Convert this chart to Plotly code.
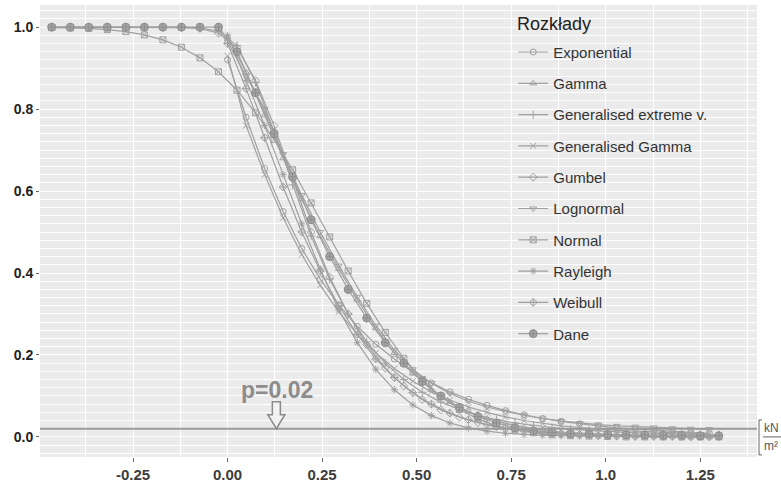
import plotly.graph_objects as go

# ---------------- data ----------------
# grid used for the empirical data and the full-support distributions
X_GRID = [-0.465, -0.416, -0.367, -0.318, -0.269, -0.220, -0.171, -0.122, -0.073, -0.024,
          0.025, 0.074, 0.123, 0.172, 0.221, 0.270, 0.319, 0.368, 0.417, 0.466,
          0.515, 0.564, 0.613, 0.662, 0.711, 0.760, 0.809, 0.858, 0.907, 0.956,
          1.005, 1.054, 1.103, 1.152, 1.201, 1.250, 1.299]
# grid used for the distributions with positive support
P_GRID = [0.000, 0.049, 0.098, 0.147, 0.196, 0.245, 0.294, 0.343, 0.392, 0.441,
          0.490, 0.539, 0.588, 0.637, 0.686, 0.735, 0.784, 0.833, 0.882, 0.931,
          0.980, 1.029, 1.078, 1.127, 1.176, 1.225, 1.274]

exponential = [0.92, 0.78, 0.655, 0.55, 0.46, 0.385, 0.322, 0.27, 0.226, 0.19,
               0.158, 0.132, 0.11, 0.092, 0.077, 0.064, 0.054, 0.045, 0.038, 0.032,
               0.027, 0.022, 0.019, 0.016, 0.013, 0.011, 0.009]
gamma = [0.975, 0.89, 0.785, 0.68, 0.58, 0.49, 0.41, 0.335, 0.265, 0.205,
         0.155, 0.115, 0.085, 0.062, 0.045, 0.033, 0.024, 0.017, 0.012, 0.009,
         0.006, 0.0045, 0.003, 0.0022, 0.0016, 0.0011, 0.0008]
gev = [1.0, 1.0, 1.0, 1.0, 1.0, 1.0, 1.0, 1.0, 0.998, 0.99,
       0.955, 0.865, 0.745, 0.615, 0.49, 0.385, 0.30, 0.232, 0.18, 0.14,
       0.109, 0.085, 0.067, 0.053, 0.042, 0.034, 0.028, 0.023, 0.019, 0.016,
       0.013, 0.011, 0.0095, 0.008, 0.007, 0.006, 0.005]
gen_gamma = [0.93, 0.76, 0.64, 0.535, 0.445, 0.37, 0.305, 0.25, 0.205, 0.167,
             0.136, 0.11, 0.09, 0.073, 0.06, 0.049, 0.04, 0.033, 0.027, 0.023,
             0.019, 0.016, 0.014, 0.012, 0.010, 0.009, 0.008]
gumbel = [1.0, 1.0, 1.0, 1.0, 1.0, 1.0, 1.0, 0.999, 0.997, 0.985,
          0.95, 0.87, 0.76, 0.63, 0.50, 0.39, 0.30, 0.225, 0.168, 0.124,
          0.091, 0.066, 0.048, 0.035, 0.025, 0.018, 0.013, 0.0095, 0.0068, 0.0049,
          0.0035, 0.0025, 0.0018, 0.0013, 0.0009, 0.0007, 0.0005]
lognormal = [0.965, 0.88, 0.80, 0.69, 0.59, 0.50, 0.418, 0.342, 0.272, 0.212,
             0.165, 0.131, 0.106, 0.087, 0.073, 0.062, 0.053, 0.045, 0.039, 0.034,
             0.030, 0.027, 0.025, 0.023, 0.021, 0.020, 0.019]
normal = [0.999, 0.998, 0.997, 0.994, 0.989, 0.981, 0.969, 0.951, 0.925, 0.891,
          0.846, 0.791, 0.726, 0.652, 0.571, 0.488, 0.405, 0.326, 0.255, 0.192,
          0.140, 0.098, 0.067, 0.044, 0.027, 0.017, 0.010, 0.005, 0.003, 0.002,
          0.001, 0.0, 0.0, 0.0, 0.0, 0.0, 0.0]
rayleigh = [0.98, 0.87, 0.76, 0.64, 0.52, 0.41, 0.31, 0.23, 0.165, 0.115,
            0.078, 0.052, 0.034, 0.022, 0.014, 0.009, 0.006, 0.004, 0.003, 0.002,
            0.002, 0.001, 0.001, 0.001, 0.001, 0.0, 0.0]
weibull = [0.96, 0.85, 0.73, 0.61, 0.50, 0.405, 0.32, 0.25, 0.19, 0.145,
           0.108, 0.08, 0.058, 0.042, 0.03, 0.021, 0.015, 0.01, 0.007, 0.005,
           0.003, 0.002, 0.001, 0.001, 0.001, 0.0, 0.0]
dane = [1.0, 1.0, 1.0, 1.0, 1.0, 1.0, 1.0, 1.0, 1.0, 1.0,
        0.94, 0.84, 0.74, 0.635, 0.53, 0.44, 0.36, 0.29, 0.23, 0.18,
        0.135, 0.10, 0.072, 0.05, 0.034, 0.022, 0.015, 0.011, 0.008, 0.007,
        0.006, 0.005, 0.005, 0.004, 0.004, 0.003, 0.003]

SERIES_NAMES = ["Exponential", "Gamma", "Generalised extreme v.", "Generalised Gamma",
                "Gumbel", "Lognormal", "Normal", "Rayleigh", "Weibull", "Dane"]
SERIES_VALUES = [exponential, gamma, gev, gen_gamma, gumbel, lognormal,
                 normal, rayleigh, weibull, dane]

X_TICKS = [-0.25, 0.0, 0.25, 0.5, 0.75, 1.0, 1.25]
X_TICK_TEXT = ["-0.25", "0.00", "0.25", "0.50", "0.75", "1.0", "1.25"]
X_MINOR = [-0.375, -0.125, 0.125, 0.375, 0.625, 0.875, 1.125, 1.375]
Y_TICKS = [0.0, 0.2, 0.4, 0.6, 0.8, 1.0]
Y_TICK_TEXT = ["0.0", "0.2", "0.4", "0.6", "0.8", "1.0"]

P_LEVEL = 0.02
P_LABEL = "p=0.02"
P_ARROW_X = 0.129
LEGEND_TITLE = "Rozkłady"
UNIT_TOP = "kN"
UNIT_BOTTOM = "m²"

# ---------------- styles ----------------
SYMBOLS = ["circle-open", "triangle-up-open", "cross-thin-open", "x-thin-open",
           "diamond-open", "triangle-down-open", "square-x-open", "asterisk-open",
           "diamond-cross-open", "circle-cross"]
LINE_COL = "#A0A0A0"
FONT = "Liberation Sans, Arial, sans-serif"

fig = go.Figure()
for i, (name, vals) in enumerate(zip(SERIES_NAMES, SERIES_VALUES)):
    xs = X_GRID if len(vals) == len(X_GRID) else P_GRID
    is_data = name == "Dane"
    marker = dict(symbol=SYMBOLS[i], size=8 if is_data else 6,
                  color="#A4A4A4" if is_data else LINE_COL,
                  line=dict(color="#8E8E8E" if is_data else LINE_COL, width=1))
    fig.add_trace(go.Scatter(
        x=xs, y=vals, mode="lines+markers", name=name,
        legendgroup=name,
        line=dict(color=LINE_COL, width=1.2),
        marker=marker,
    ))

# p-level line
fig.add_shape(type="line", xref="paper", x0=0, x1=1, yref="y", y0=P_LEVEL, y1=P_LEVEL,
              line=dict(color="#9A9A9A", width=2), layer="above")
# outlined arrow pointing to the p-level line
fig.add_shape(type="path", xref="x", yref="y", xsizemode="pixel", ysizemode="pixel",
              xanchor=P_ARROW_X, yanchor=P_LEVEL,
              path="M 0 0 L -8.5 14 L -4 14 L -4 27 L 4 27 L 4 14 L 8.5 14 Z",
              line=dict(color="#8A8A8A", width=1.5), fillcolor="#F2F2F2", layer="above")
fig.add_annotation(x=P_ARROW_X, y=P_LEVEL, xref="x", yref="y", text=P_LABEL,
                   showarrow=False, yshift=39, xshift=1,
                   font=dict(family=FONT, size=23, color="#8C8C8C", weight="bold"))

# legend title as a separate text
fig.add_annotation(xref="paper", yref="paper", x=0.663, y=1.0, xanchor="left", yanchor="middle",
                   yshift=-19, text=LEGEND_TITLE, showarrow=False,
                   font=dict(family=FONT, size=18, color="#222222"))

# unit label [kN/m²] at the right edge
UNIT_FONT = dict(family="Liberation Sans Narrow, Arial Narrow, sans-serif", size=12, color="#555555")
fig.add_annotation(xref="paper", x=1.0, xanchor="left", xshift=5, y=0.0, yref="y", yshift=9,
                   text=UNIT_TOP, showarrow=False, font=UNIT_FONT)
fig.add_annotation(xref="paper", x=1.0, xanchor="left", xshift=5, y=0.0, yref="y", yshift=-9,
                   text=UNIT_BOTTOM, showarrow=False, font=UNIT_FONT)
fig.add_shape(type="path", xref="paper", yref="y", xsizemode="pixel", ysizemode="pixel",
              xanchor=1.0, yanchor=0.0,
              path="M 5 17 L 2 17 L 2 -18 L 5 -18 M 6 0 L 30 0",
              line=dict(color="#666666", width=1))

fig.update_layout(
    width=781, height=490,
    margin=dict(l=40, r=24, t=5, b=33),
    paper_bgcolor="white",
    plot_bgcolor="#EBEBEB",
    font=dict(family=FONT, color="#333333"),
    showlegend=True,
    legend=dict(
        x=0.660, y=0.932, xanchor="left", yanchor="top",
        bgcolor="rgba(0,0,0,0)",
        font=dict(family=FONT, size=15, color="#333333"),
        tracegroupgap=8.8,
        itemwidth=30,
    ),
    xaxis=dict(
        range=[-0.496, 1.40],
        tickmode="array", tickvals=X_TICKS, ticktext=X_TICK_TEXT,
        ticks="outside", ticklen=4, tickcolor="#666666",
        tickfont=dict(family=FONT, size=15, color="#3C3C3C", weight="bold"),
        showgrid=True, gridcolor="white", gridwidth=1.3,
        minor=dict(tickmode="array", tickvals=X_MINOR,
                   showgrid=True, gridcolor="white", gridwidth=0.6, ticks=""),
        zeroline=False, showline=False,
    ),
    yaxis=dict(
        range=[-0.049, 1.054],
        tickmode="array", tickvals=Y_TICKS, ticktext=Y_TICK_TEXT,
        ticks="outside", ticklen=3, tickcolor="#666666",
        tickfont=dict(family=FONT, size=14, color="#222222", weight="bold"),
        showgrid=True, gridcolor="white", gridwidth=1.3,
        minor=dict(dtick=0.02, tick0=0, showgrid=True, gridcolor="white", gridwidth=0.6, ticks=""),
        zeroline=False, showline=False,
    ),
)

fig.write_html("out.html", config={"displayModeBar": False},
               post_script="document.body.style.margin='0';document.body.style.overflow='hidden';")
